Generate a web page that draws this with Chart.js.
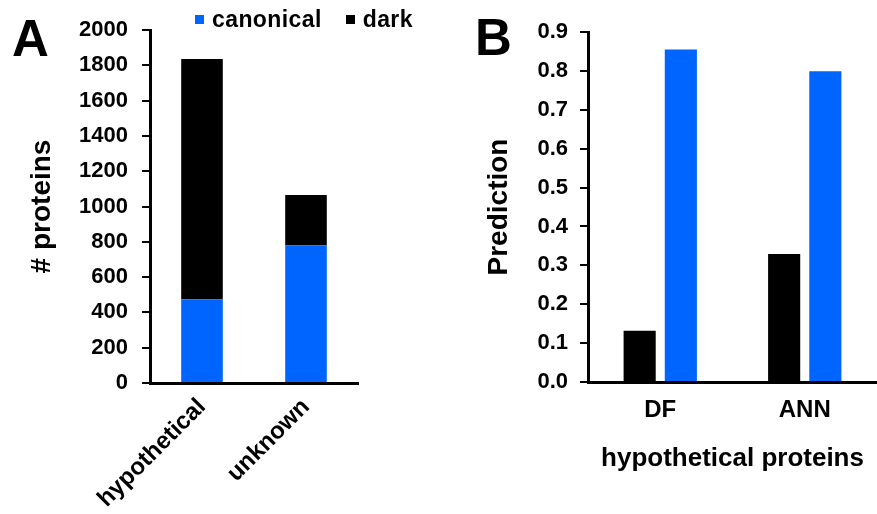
<!DOCTYPE html>
<html>
<head>
<meta charset="utf-8">
<script src="https://cdn.jsdelivr.net/npm/chart.js@4.4.1/dist/chart.umd.min.js"></script>
<style>
    html, body { margin: 0; padding: 0; background: #fff; }
    body { width: 877px; height: 514px; position: relative; overflow: hidden;
           font-family: "Liberation Sans", Arial, sans-serif; }
    .panel-letter { position: absolute; font-weight: bold; font-size: 51px; line-height: 1; color: #000; }
    .chart-box { position: absolute; top: 0; height: 514px; }
    .legend { position: absolute; top: 6px; left: 195px; display: flex; align-items: center;
              font-weight: bold; font-size: 23px; color: #000; white-space: nowrap; letter-spacing: 0.4px; }
    .legend .swatch { display: inline-block; width: 9px; height: 9px; margin-right: 8px; }
    .legend .item { display: flex; align-items: center; margin-right: 24px; }
</style>
</head>
<body>
<div class="panel-letter" style="left:12px; top:13px;">A</div>
<div class="panel-letter" style="left:475px; top:12px;">B</div>
<div class="chart-box" style="left:0; width:440px;"><canvas id="chart-a"></canvas></div>
<div class="chart-box" style="left:440px; width:437px;"><canvas id="chart-b"></canvas></div>
<div class="legend" id="legend-a"></div>

<script>
// Panel A: stacked counts
const proteinGroups = ['hypothetical', 'unknown'];
const canonicalCounts = [474, 780];
const darkCounts = [1362, 285];
const countTicks = [0, 200, 400, 600, 800, 1000, 1200, 1400, 1600, 1800, 2000];

// Panel B: prediction scores for hypothetical proteins
const methods = ['DF', 'ANN'];
const darkPrediction = [0.132, 0.329];
const canonicalPrediction = [0.855, 0.799];

const BLUE = '#0064FF';
const BLACK = '#000000';
const FONT = '"Liberation Sans", Arial, sans-serif';

// HTML legend for panel A
const legendEl = document.getElementById('legend-a');
[['canonical', BLUE], ['dark', BLACK]].forEach(([label, color]) => {
    const item = document.createElement('span');
    item.className = 'item';
    item.innerHTML = `<span class="swatch" style="background:${color}"></span>${label}`;
    legendEl.appendChild(item);
});

function yAxis(width, title, padding) {
    return {
        beginAtZero: true,
        grid: { drawOnChartArea: false, drawTicks: true, tickLength: 8, color: BLACK, lineWidth: 2 },
        border: { color: BLACK, width: 3 },
        title: { display: true, text: title, color: BLACK, padding: 0,
                 font: { family: FONT, size: 28, weight: 'bold' } },
        afterFit: scale => { scale.width = width; }
    };
}

new Chart(document.getElementById('chart-a'), {
    type: 'bar',
    data: {
        labels: proteinGroups,
        datasets: [
            { label: 'canonical', data: canonicalCounts, backgroundColor: BLUE,
              barPercentage: 0.4, categoryPercentage: 1 },
            { label: 'dark', data: darkCounts, backgroundColor: BLACK,
              barPercentage: 0.4, categoryPercentage: 1 }
        ]
    },
    options: {
        responsive: true,
        maintainAspectRatio: false,
        animation: false,
        layout: { padding: { left: 25, right: 82, top: 30, bottom: 0 } },
        plugins: { legend: { display: false }, tooltip: { enabled: false } },
        scales: {
            x: {
                stacked: true,
                grid: { display: true, drawOnChartArea: false, drawTicks: false },
                border: { color: BLACK, width: 3 },
                ticks: { color: BLACK, maxRotation: 45, minRotation: 45, padding: 10,
                         font: { family: FONT, size: 24, weight: 'bold' } },
                afterFit: scale => { scale.height = 131; }
            },
            y: Object.assign(yAxis(125, '# proteins', 14), {
                stacked: true,
                min: 0,
                max: 2000,
                ticks: { color: BLACK, padding: 14, font: { family: FONT, size: 22, weight: 'bold' },
                         callback: v => String(v) },
                afterBuildTicks: scale => { scale.ticks = countTicks.map(v => ({ value: v })); }
            })
        }
    }
});

new Chart(document.getElementById('chart-b'), {
    type: 'bar',
    data: {
        labels: methods,
        datasets: [
            { label: 'dark', data: darkPrediction, backgroundColor: BLACK,
              barPercentage: 0.78, categoryPercentage: 0.57 },
            { label: 'canonical', data: canonicalPrediction, backgroundColor: BLUE,
              barPercentage: 0.78, categoryPercentage: 0.57 }
        ]
    },
    options: {
        responsive: true,
        maintainAspectRatio: false,
        animation: false,
        layout: { padding: { left: 42, right: 0, top: 32, bottom: 0 } },
        plugins: { legend: { display: false }, tooltip: { enabled: false } },
        scales: {
            x: {
                grid: { display: true, drawOnChartArea: false, drawTicks: false },
                border: { color: BLACK, width: 3 },
                ticks: { color: BLACK, padding: 14, font: { family: FONT, size: 24, weight: 'bold' } },
                title: { display: true, text: 'hypothetical proteins', color: BLACK,
                         padding: { top: 0, bottom: 40 },
                         font: { family: FONT, size: 26, weight: 'bold' } },
                afterFit: scale => { scale.height = 132; }
            },
            y: Object.assign(yAxis(106, 'Prediction', 12), {
                min: 0,
                max: 0.9,
                ticks: { color: BLACK, padding: 12, stepSize: 0.1,
                         font: { family: FONT, size: 22, weight: 'bold' },
                         callback: v => v.toFixed(1) }
            })
        }
    }
});
</script>
</body>
</html>
